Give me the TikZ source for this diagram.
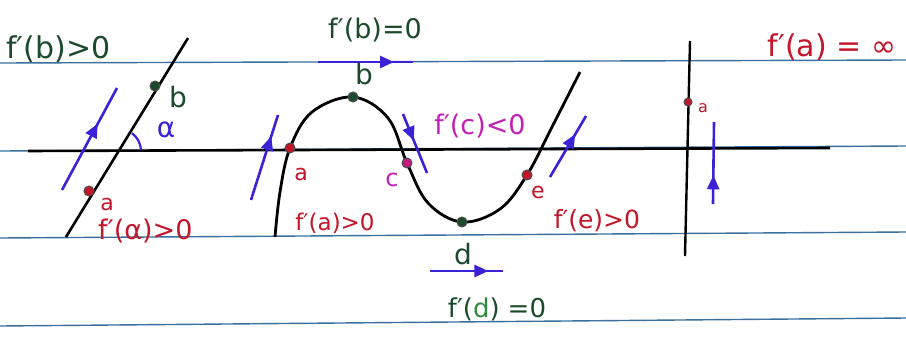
\documentclass[tikz,border=0pt]{standalone}
\usepackage{fontspec}
\setmainfont{DejaVu Sans}
\usetikzlibrary{arrows.meta,decorations.markings}
\definecolor{dgreen}{HTML}{1B4A2C}
\definecolor{lgreen}{HTML}{2E8B3E}
\definecolor{pred}{HTML}{C3162A}
\definecolor{pmag}{HTML}{C21FB4}
\definecolor{pblue}{HTML}{3A22D6}
\definecolor{rule}{HTML}{3A6F9E}
\tikzset{
  ruleline/.style={rule, line width=1.4pt},
  curve/.style={black, line width=2.8pt},
  reddot/.style={circle, fill=pred, draw=black!70, line width=1pt, inner sep=0pt, minimum size=10pt},
  greendot/.style={circle, fill=dgreen, draw=black!70, line width=1pt, inner sep=0pt, minimum size=10pt},
  midarrow/.style={pblue, line width=2.6pt, decoration={markings, mark=at position #1 with {\arrow{Triangle[length=14pt,width=12pt]}}}, postaction={decorate}},
  fs/.style={inner sep=0pt, font=\fontsize{#1}{#1}\selectfont},
}
\begin{document}
\begin{tikzpicture}[x=1pt,y=-1pt]
\useasboundingbox (0,0) rectangle (906,338);
\fill[white] (0,0) rectangle (906,338);
% ruled lines
\draw[ruleline] (0,63) -- (906,60);
\draw[ruleline] (0,151) -- (906,146);
\draw[ruleline] (0,238) -- (906,232);
\draw[ruleline] (0,326) -- (906,318);
% axis
\draw[black, line width=2.6pt] (28,151) -- (830,148);

% ---- left tangent line ----
\coordinate (L1) at (66,237);
\coordinate (L2) at (188,38);
\draw[black, line width=2.6pt] (L1) -- (L2);
\node[greendot] (Lb) at (155,86) {};
\node[reddot] (La) at (89,191) {};
\node[fs=28, dgreen] (Lbl) at (178,97) {b};
\node[fs=22, pred] (Lal) at (107,204) {a};
\coordinate (A1) at (62,190);
\coordinate (A2) at (117,88);
\draw[midarrow=0.65] (A1) -- (A2);
\coordinate (O) at (119,151);
\draw[pblue, line width=2.2pt] (O) ++(-2:22) arc[start angle=-2, end angle=-54, radius=22];
\node[fs=28, pblue] (alpha) at (166,130) {α};
\node[fs=30, dgreen, anchor=west] (t1) at (6,49) {f′(b)>0};
\node[fs=27, pred, anchor=west] (t2) at (98,231) {f′(α)>0};

% ---- middle curve ----
\draw[curve] plot[smooth, tension=0.6] coordinates {(275,237) (280,192) (290,148) (312,112) (353,97) (388,118) (407,163) (428,203) (462,222) (500,209) (527,175) (552,127) (580,72)};
\node[reddot] (Ma) at (290,148) {};
\node[greendot] (Mb) at (353,97) {};
\node[reddot, fill=pmag!60!pred] (Mc) at (407,163) {};
\node[greendot] (Md) at (462,222) {};
\node[reddot] (Me) at (527,175) {};
\node[fs=22, pred] (Mal) at (301,174) {a};
\node[fs=28, dgreen] (Mbl) at (364,74) {b};
\node[fs=24, pmag] (Mcl) at (392,180) {c};
\node[fs=28, dgreen] (Mdl) at (463,254) {d};
\node[fs=22, pred] (Mel) at (538,192) {e};
% tangent arrows
\coordinate (B1) at (318,62);
\coordinate (B2) at (413,62);
\draw[midarrow=0.8] (B1) -- (B2);
\coordinate (D1) at (430,271);
\coordinate (D2) at (503,271);
\draw[midarrow=0.8] (D1) -- (D2);
\coordinate (C1) at (403,114);
\coordinate (C2) at (427,173);
\draw[midarrow=0.45] (C1) -- (C2);
\coordinate (P1) at (251,200);
\coordinate (P2) at (278,115);
\draw[midarrow=0.75] (P1) -- (P2);
\coordinate (E1) at (550,177);
\coordinate (E2) at (586,116);
\draw[midarrow=0.7] (E1) -- (E2);
% labels
\node[fs=27, dgreen] (t3) at (375,30) {f′(b)=0};
\node[fs=27, pmag] (t4) at (480,126) {f′(c)<0};
\node[fs=23, pred] (t5) at (335,223) {f′(a)>0};
\node[fs=25, pred] (t6) at (597,221) {f′(e)>0};
\node[fs=26, dgreen] (t7) at (497,309) {f′(\textcolor{lgreen}{d})\hspace{8pt}=0};

% ---- right vertical tangent ----
\coordinate (V1) at (690,41);
\coordinate (V2) at (685,256);
\draw[black, line width=2.4pt] (V1) -- (V2);
\node[reddot, minimum size=8pt] (Va) at (688,102) {};
\node[fs=16, pred] (Val) at (703,108) {a};
\coordinate (W1) at (713,204);
\coordinate (W2) at (714,122);
\draw[midarrow=0.35] (W1) -- (W2);
\node[fs=30, pred] (t8) at (832,47) {f′(a) = ∞};
\end{tikzpicture}
\end{document}
